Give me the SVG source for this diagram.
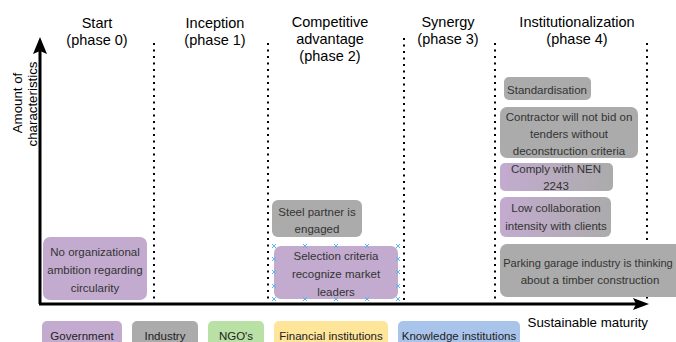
<svg xmlns="http://www.w3.org/2000/svg" width="676" height="342" viewBox="0 0 676 342">
<defs>
<linearGradient id="pg" x1="0" y1="0" x2="1" y2="0">
<stop offset="0" stop-color="#C3ABD0"/>
<stop offset="1" stop-color="#ABABAB"/>
</linearGradient>
<style>
text{font-family:"Liberation Sans",Arial,Helvetica,sans-serif;}
.hd{font-size:14.5px;fill:#000;text-anchor:middle;}
.ax{font-size:13.3px;fill:#000;}
.nt{font-size:11.5px;fill:#333;text-anchor:middle;}
.lg{font-size:11.5px;fill:#222;text-anchor:middle;}
.pur{fill:#C3ABD0;}
.gry{fill:#ABABAB;}
.grd{fill:url(#pg);}
.dot{stroke:#000;stroke-width:2;stroke-dasharray:2 4.5;fill:none;}
.axis{stroke:#000;stroke-width:3;fill:none;}
.h{stroke:#5AB4F0;stroke-width:1;}
</style>
</defs>
<rect width="676" height="342" fill="#fff"/>

<g id="headers">
<text class="hd" x="97" y="28">Start</text>
<text class="hd" x="97" y="45">(phase 0)</text>
<text class="hd" x="215" y="28">Inception</text>
<text class="hd" x="215" y="45">(phase 1)</text>
<text class="hd" x="330" y="27">Competitive</text>
<text class="hd" x="330" y="44">advantage</text>
<text class="hd" x="330" y="61">(phase 2)</text>
<text class="hd" x="448" y="27">Synergy</text>
<text class="hd" x="448" y="44">(phase 3)</text>
<text class="hd" x="577" y="27">Institutionalization</text>
<text class="hd" x="577" y="44">(phase 4)</text>
</g>

<g id="dividers">
<line class="dot" x1="154" y1="43" x2="154" y2="300"/>
<line class="dot" x1="268" y1="43" x2="268" y2="302"/>
<line class="dot" x1="404" y1="38" x2="404" y2="300"/>
<line class="dot" x1="495" y1="43" x2="495" y2="302"/>
<line class="dot" x1="647" y1="43" x2="647" y2="300"/>
</g>

<g id="connectors">
<line class="axis" x1="40" y1="304" x2="40" y2="48"/>
<path d="M40 37 L47 54 L40 51 L33 54 Z" fill="#000"/>
<line class="axis" x1="39" y1="304" x2="638" y2="304"/>
<path d="M649 304 L633 310 L636 304 L633 298 Z" fill="#000"/>
</g>

<g id="axis-labels">
<text class="ax" text-anchor="middle" transform="translate(22,103) rotate(-90)">Amount of</text>
<text class="ax" text-anchor="middle" transform="translate(37,104) rotate(-90)">characteristics</text>
<text class="ax" text-anchor="end" x="648" y="327">Sustainable maturity</text>
</g>

<g id="n-no-ambition">
<rect class="pur" x="43" y="237" width="104" height="63" rx="7"/>
<text class="nt" x="95" y="256">No organizational</text>
<text class="nt" x="95" y="274">ambition regarding</text>
<text class="nt" x="95" y="292">circularity</text>
</g>

<g id="n-steel">
<rect class="gry" x="272" y="200" width="90" height="37" rx="6"/>
<text class="nt" x="317" y="216">Steel partner is</text>
<text class="nt" x="317" y="233">engaged</text>
</g>

<g id="n-selection">
<rect class="pur" x="274" y="246" width="124" height="53" rx="7"/>
<text class="nt" x="336" y="260">Selection criteria</text>
<text class="nt" x="336" y="278">recognize market</text>
<text class="nt" x="336" y="296">leaders</text>
<g class="h">
<path d="M272 244l4 4M276 244l-4 4M303 244l4 4M307 244l-4 4M334 244l4 4M338 244l-4 4M365 244l4 4M369 244l-4 4M396 244l4 4M400 244l-4 4"/>
<path d="M272 297l4 4M276 297l-4 4M303 297l4 4M307 297l-4 4M334 297l4 4M338 297l-4 4M365 297l4 4M369 297l-4 4M396 297l4 4M400 297l-4 4"/>
<path d="M272 257l4 4M276 257l-4 4M272 270l4 4M276 270l-4 4M272 284l4 4M276 284l-4 4"/>
<path d="M396 257l4 4M400 257l-4 4M396 270l4 4M400 270l-4 4M396 284l4 4M400 284l-4 4"/>
</g>
</g>

<g id="n-standardisation">
<rect class="gry" x="504" y="77" width="87" height="23" rx="5"/>
<text class="nt" x="547" y="94">Standardisation</text>
</g>

<g id="n-contractor">
<rect class="gry" x="500" y="107" width="138" height="51" rx="7"/>
<text class="nt" x="569" y="121">Contractor will not bid on</text>
<text class="nt" x="569" y="138">tenders without</text>
<text class="nt" x="569" y="155">deconstruction criteria</text>
</g>

<g id="n-nen">
<rect class="grd" x="500" y="163" width="113" height="28" rx="5"/>
<text class="nt" x="556" y="173">Comply with NEN</text>
<text class="nt" x="556" y="190">2243</text>
</g>

<g id="n-collaboration">
<rect class="grd" x="500" y="197" width="111" height="40" rx="6"/>
<text class="nt" x="556" y="212">Low collaboration</text>
<text class="nt" x="556" y="230">intensity with clients</text>
</g>

<g id="n-parking">
<rect class="gry" x="500" y="244" width="182" height="53" rx="7"/>
<text class="nt" x="588" y="267" style="font-size:11.1px">Parking garage industry is thinking</text>
<text class="nt" x="590" y="284">about a timber construction</text>
</g>

<g id="legend">
<g id="lg-government"><rect class="pur" x="42" y="321" width="80" height="30" rx="5"/><text class="lg" x="82" y="340">Government</text></g>
<g id="lg-industry"><rect class="gry" x="132" y="321" width="66" height="30" rx="5"/><text class="lg" x="165" y="340">Industry</text></g>
<g id="lg-ngo"><rect fill="#B9E0A5" x="208" y="321" width="56" height="30" rx="5"/><text class="lg" x="236" y="340">NGO's</text></g>
<g id="lg-financial"><rect fill="#FFE599" x="274" y="321" width="114" height="30" rx="5"/><text class="lg" x="331" y="340">Financial institutions</text></g>
<g id="lg-knowledge"><rect fill="#A9C4EB" x="398" y="321" width="122" height="30" rx="5"/><text class="lg" x="459" y="340">Knowledge institutions</text></g>
</g>
</svg>
